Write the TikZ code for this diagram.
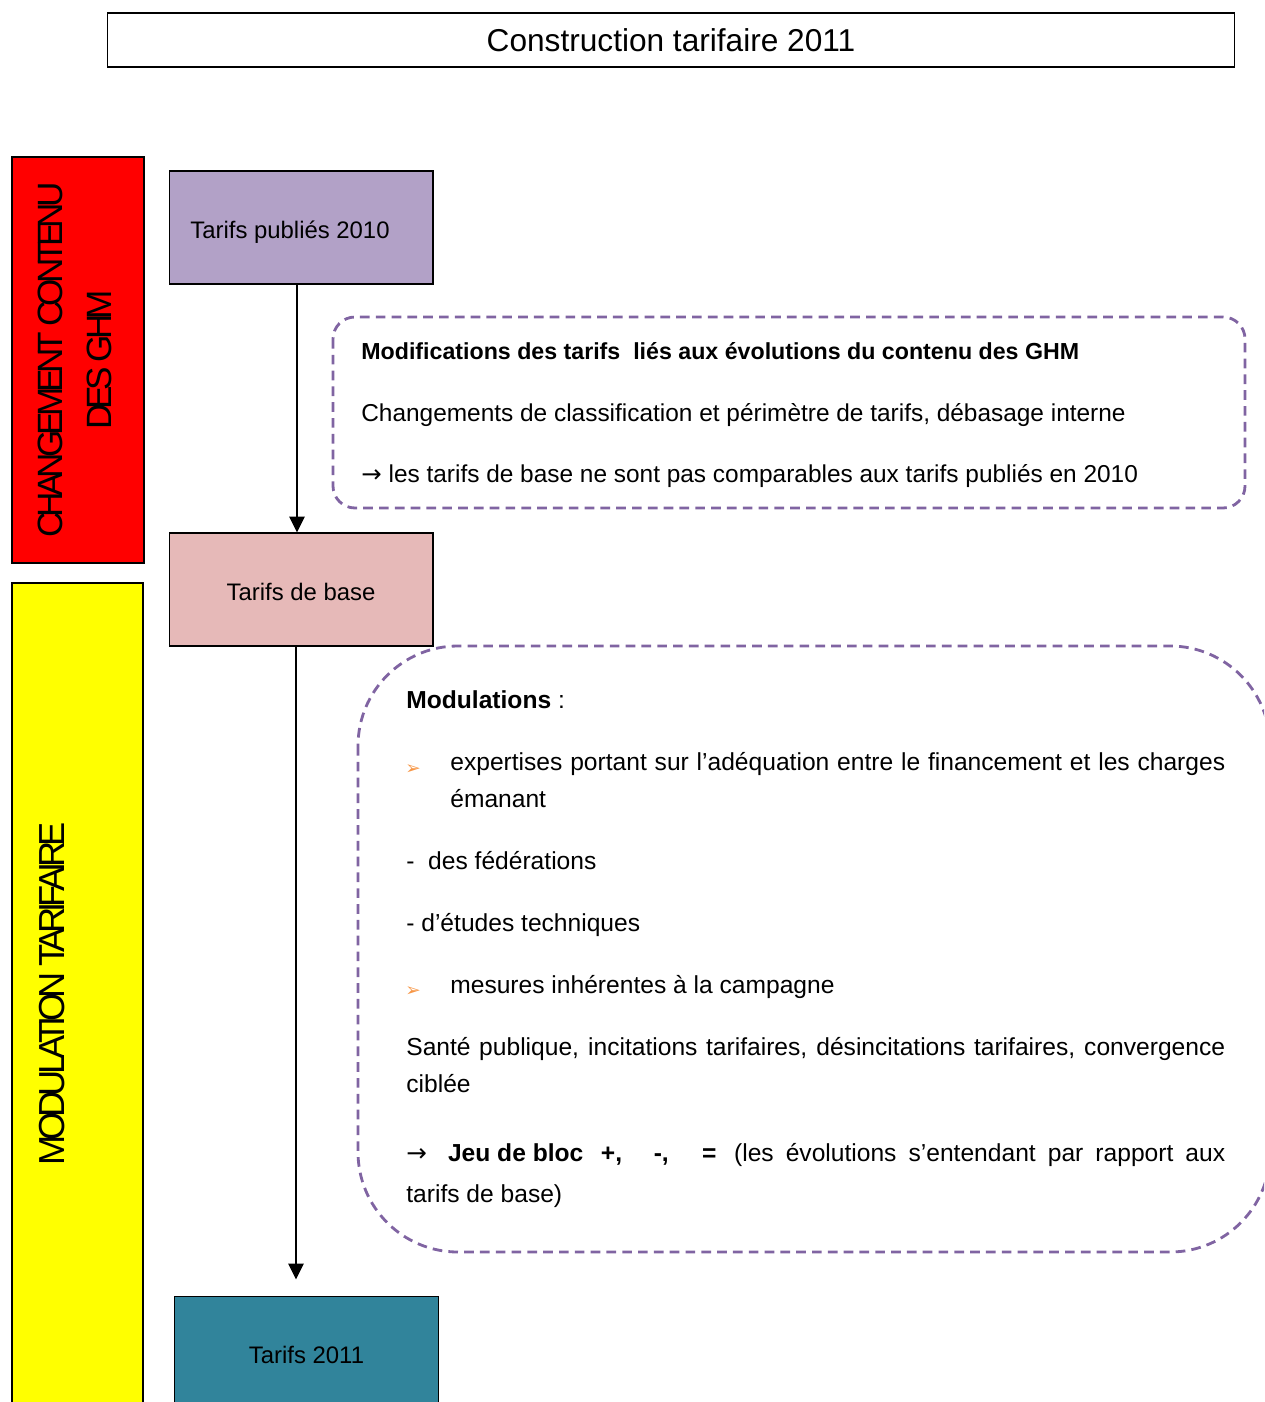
\documentclass[tikz,border=0pt]{standalone}
\usepackage{fontspec}
\setmainfont{Liberation Sans}
\newfontfamily\symbfont{DejaVu Sans}
\newfontfamily\sidefont[LetterSpace=-13.8]{Liberation Sans}
\usetikzlibrary{arrows.meta}

\definecolor{lavande}{HTML}{B2A1C7}
\definecolor{rosebase}{HTML}{E6B9B8}
\definecolor{bleucanard}{HTML}{31849B}
\definecolor{violetcadre}{HTML}{8064A2}
\definecolor{orangepuce}{HTML}{F79646}
\definecolor{rouge}{HTML}{FF0000}
\definecolor{jaune}{HTML}{FFFF00}

\newcommand{\puce}{\textcolor{orangepuce}{\symbfont\fontsize{10.5}{10.5}\selectfont ➢}}
\newcommand{\fleche}{{\symbfont →}}

\begin{document}
\begin{tikzpicture}[x=0.02cm, y=-0.02cm,
    tarif/.style={draw, line width=0.6pt, minimum width=5.28cm, minimum height=2.26cm,
      text height=14pt, text depth=1.5pt, font=\fontsize{13.6}{16}\selectfont},
    bande/.style={draw, line width=0.8pt, rotate=90},
    titrebande/.style={rotate=90, align=center, inner sep=0pt,
      font=\sidefont\fontsize{20}{28}\selectfont},
    cadre/.style={draw=violetcadre, line width=1.6pt, dash pattern=on 5.5pt off 3.5pt},
    ligne/.style={anchor=west, inner sep=0pt, text height=11pt, text depth=2pt,
      font=\fontsize{14}{17}\selectfont},
    flow/.style={-{Triangle[width=8.5pt,length=9pt]}, line width=1.4pt}]
      \useasboundingbox (0,0) rectangle (1264,1402);
      \clip (0,0) rectangle (1264,1402);

      % titre
      \node[draw, line width=0.6pt, minimum width=22.56cm, minimum height=1.08cm,
        font=\fontsize{18}{20}\selectfont] (titre) at (671,40) {Construction tarifaire 2011};

      % bandes laterales
      \node[bande, fill=rouge, minimum width=8.12cm, minimum height=2.64cm] (chg) at (78,360) {};
      \node[titrebande] (chgtxt) at (75,360) {CHANGEMENT CONTENU\\DES GHM};
      \node[bande, fill=jaune, minimum width=16.76cm, minimum height=2.62cm] (mod) at (77.5,1002) {};
      \node[titrebande, font=\sidefont\fontsize{20.6}{28}\selectfont] (modtxt) at (52,994) {MODULATION TARIFAIRE};

      % tarifs
      \node[tarif, fill=lavande] (pub) at (301,227.5) {\hspace*{-0.44cm}Tarifs publiés 2010};
      \node[tarif, fill=rosebase] (base) at (301,589.5) {Tarifs de base};
      \node[tarif, fill=bleucanard] (fin) at (306.5,1352.5) {Tarifs 2011};

      \draw[flow] ([xshift=-0.08cm]pub.south) -- ([xshift=-0.08cm]pub.south |- base.north);
      \draw[flow, shorten >=0.32cm] ([xshift=-0.1cm]base.south) -- ([xshift=-0.1cm]base.south |- fin.north);

      % cadre 1
      \draw[cadre, rounded corners=0.44cm] (333,317) rectangle (1245,508);
      \node[ligne, font=\bfseries\fontsize{13.2}{17}\selectfont] (modif) at (361,352)
        {Modifications des tarifs \ liés aux évolutions du contenu des GHM};
      \node[ligne, font=\fontsize{13.9}{17}\selectfont] (chgt) at (361,414)
        {Changements de classification et périmètre de tarifs, débasage interne};
      \node[ligne, font=\fontsize{13.9}{17}\selectfont] (compar) at (361,475)
        {\fleche\ les tarifs de base ne sont pas comparables aux tarifs publiés en 2010};

      % cadre 2
      \draw[cadre, rounded corners=2cm] (358,646) rectangle (1270,1252);
      \node[ligne] (modul) at (406,701) {\textbf{Modulations} :};
      \node[ligne] (puceA) at (405,767) {\puce};
      \node[ligne] (expA) at (450,763)
        {\makebox[15.5cm][s]{expertises portant sur l’adéquation entre le financement et les charges}};
      \node[ligne] (expB) at (450,800) {émanant};
      \node[ligne] (fed) at (406,862) {-~~des fédérations};
      \node[ligne] (etu) at (406,924) {- d’études techniques};
      \node[ligne] (puceB) at (405,989) {\puce};
      \node[ligne] (mes) at (450,986) {mesures inhérentes à la campagne};
      \node[ligne] (sante) at (406,1048)
        {\makebox[16.38cm][s]{Santé publique, incitations tarifaires, désincitations tarifaires, convergence}};
      \node[ligne] (cible) at (406,1085) {ciblée};
      \node[ligne] (jeu) at (406,1154)
        {\makebox[16.38cm][s]{\fleche\hspace{12pt}\mbox{\textbf{Jeu de bloc}}\hspace{10pt}\textbf{+,}\hspace{18pt}\textbf{-,}\hspace{19pt}\textbf{=}\hspace{10pt}(les évolutions s’entendant par rapport aux}};
      \node[ligne] (tarbase) at (406,1195) {tarifs de base)};
    \end{tikzpicture}
\end{document}
